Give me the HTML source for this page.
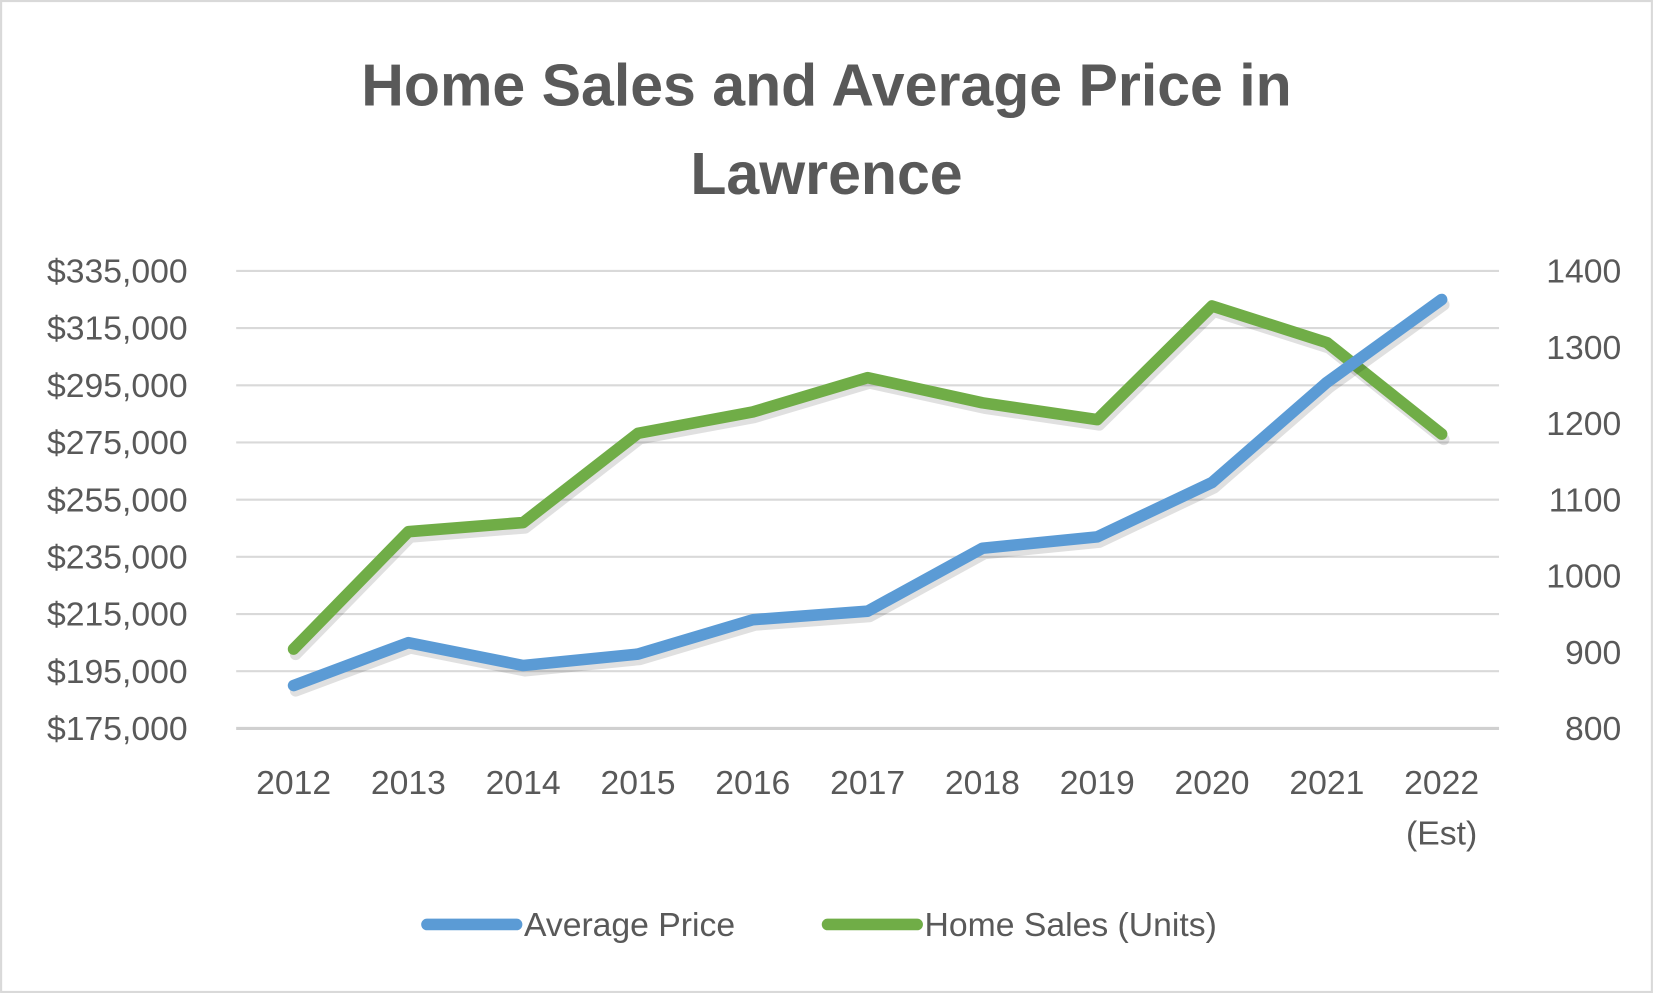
<!DOCTYPE html>
<html><head><meta charset="utf-8"><style>
html,body{margin:0;padding:0;background:#fff;}
svg{display:block;font-family:"Liberation Sans",sans-serif;}
</style></head><body>
<svg id="chart" width="1653" height="993" viewBox="0 0 1568 942" xmlns="http://www.w3.org/2000/svg">
<rect x="1" y="1" width="1566" height="940" fill="#fff" stroke="#d9d9d9" stroke-width="2"/>
<text x="784" y="100" text-anchor="middle" font-size="56" font-weight="bold" fill="#595959">Home Sales and Average Price in</text>
<text x="784" y="184" text-anchor="middle" font-size="56" font-weight="bold" fill="#595959">Lawrence</text>
<g id="grid"></g><g id="series"></g><g id="axes"></g>
<g>
<line x1="405" y1="877" x2="490" y2="877" stroke="#5b9bd5" stroke-width="11" stroke-linecap="round"/>
<text x="497" y="888" font-size="32" fill="#595959">Average Price</text>
<line x1="785" y1="877" x2="870" y2="877" stroke="#70ad47" stroke-width="11" stroke-linecap="round"/>
<text x="877" y="888" font-size="32" fill="#595959">Home Sales (Units)</text>
</g>
</svg>
<script>
const categories = ["2012","2013","2014","2015","2016","2017","2018","2019","2020","2021","2022"];
const avgPrice = [190000,205000,197000,201000,213000,216000,238000,242000,261000,296000,325000];
const homeSales = [904,1058,1070,1187,1215,1260,1227,1205,1354,1306,1186];
const leftTicks = [175000,195000,215000,235000,255000,275000,295000,315000,335000];
const rightTicks = [800,900,1000,1100,1200,1300,1400];
const NS="http://www.w3.org/2000/svg";
const x0=224,x1=1422,yTop=257,yBot=691;
const step=(x1-x0)/categories.length;
const xs=i=>x0+step*(i+0.5);
const yL=v=>yBot-(v-175000)/(335000-175000)*(yBot-yTop);
const yR=v=>yBot-(v-800)/(1400-800)*(yBot-yTop);
function mk(tag,attrs,parent){const e=document.createElementNS(NS,tag);for(const k in attrs)e.setAttribute(k,attrs[k]);parent.appendChild(e);return e;}
const grid=document.getElementById('grid'),axes=document.getElementById('axes'),series=document.getElementById('series');
leftTicks.forEach((t,i)=>{
  const y=yL(t);
  const g=mk('line',{x1:x0,x2:x1,y1:y,y2:y,stroke:i===0?'#d0d0d0':'#d9d9d9','stroke-width':i===0?3:2},grid);
  
  
  const tx=mk('text',{x:178,y:y+11,'text-anchor':'end','font-size':32,fill:'#595959'},axes);
  tx.textContent='$'+t.toLocaleString('en-US');
  
  
});
rightTicks.forEach(t=>{
  const tx=mk('text',{x:1538,y:yR(t)+11,'text-anchor':'end','font-size':32,fill:'#595959'},axes);
  tx.textContent=t;
  
  
});
categories.forEach((c,i)=>{
  const tx=mk('text',{x:xs(i),y:753,'text-anchor':'middle','font-size':32,fill:'#595959'},axes);
  tx.textContent=c;
  
  
  if(i===categories.length-1){
    const t2=mk('text',{x:xs(i),y:801,'text-anchor':'middle','font-size':32,fill:'#595959'},axes);
    t2.textContent='(Est)';
    
    
  }
});
function line(vals,fy,color,name){
  const pts=vals.map((v,i)=>xs(i)+','+fy(v)).join(' ');
  const sh=mk('polyline',{points:pts,fill:'none',stroke:'rgba(0,0,0,0.12)','stroke-width':11,'stroke-linejoin':'round','stroke-linecap':'round',transform:'translate(2,5)'},series);
  
  
  const p=mk('polyline',{points:pts,fill:'none',stroke:color,'stroke-width':11,'stroke-linejoin':'round','stroke-linecap':'round'},series);
  
  
}
line(homeSales,yR,'#70ad47','home-sales-line');
line(avgPrice,yL,'#5b9bd5','average-price-line');
</script>
</body></html>
